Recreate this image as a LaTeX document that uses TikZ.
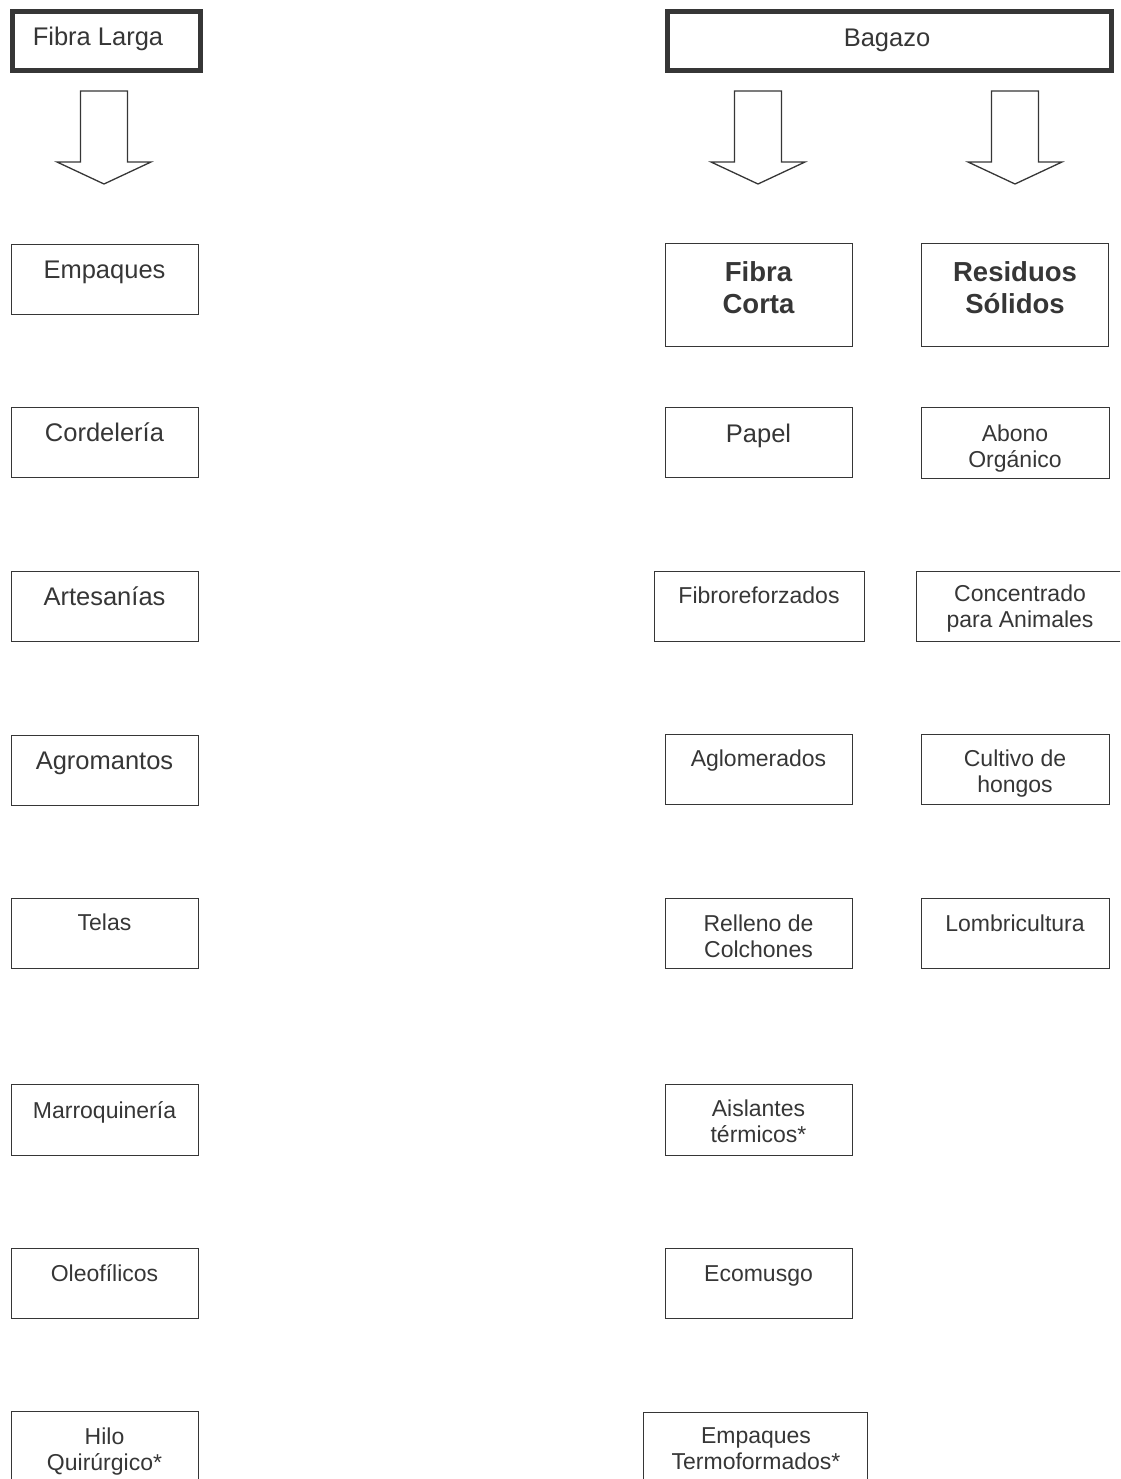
\documentclass[tikz,border=0pt]{standalone}
\usepackage{fontspec}
\setmainfont{Liberation Sans}
\usepackage{tikz}
\definecolor{grisoscuro}{HTML}{363636}
\tikzstyle{caja}=[rectangle, draw=grisoscuro, line width=1.3pt, anchor=north west, inner sep=0pt]
\tikzstyle{cajagruesa}=[caja, line width=4.6pt]
\tikzstyle{texto}=[text=grisoscuro, anchor=base, align=center, inner sep=0pt, font=\fontsize{23}{25.5}\selectfont]
\tikzstyle{textogrande}=[texto, font=\fontsize{25.5}{30}\selectfont]
\tikzstyle{textonegrita}=[texto, font=\fontsize{27.5}{32}\selectfont\bfseries]
\tikzset{flecha/.pic={
  \draw[grisoscuro, line width=1.3pt, line join=miter] (-23.5,0) -- (23.5,0) -- (23.5,71) -- (47,71) -- (0,93) -- (-47,71) -- (-23.5,71) -- cycle;
}}

\begin{document}
\begin{tikzpicture}[x=1pt, y=-1pt]
            \path[use as bounding box] (0,0) rectangle (1120,1479);
            \clip (0,0) rectangle (1120,1479);
            % Cajas de arriba
            \node[cajagruesa, minimum width=188pt, minimum height=58.5pt] (fibralarga) at (10,9.5) {};
            \node[cajagruesa, minimum width=444pt, minimum height=58.5pt] (bagazo) at (665,9.5) {};
            \node[textogrande] (tfibralarga) at (98,46) {Fibra Larga};
            \node[textogrande] (tbagazo) at (887,47) {Bagazo};
            % Flechas
            \pic (flechalarga) at (104,91) {flecha};
            \pic (flechacorta) at (758,91) {flecha};
            \pic (flecharesiduos) at (1015,91) {flecha};
            % Columna de fibra larga
            \node[caja, minimum width=187pt, minimum height=70pt] (empaques) at (11,244) {};
            \node[caja, minimum width=187pt, minimum height=70pt] (cordeleria) at (11,407) {};
            \node[caja, minimum width=187pt, minimum height=70pt] (artesanias) at (11,571) {};
            \node[caja, minimum width=187pt, minimum height=70pt] (agromantos) at (11,735) {};
            \node[caja, minimum width=187pt, minimum height=70pt] (telas) at (11,898) {};
            \node[caja, minimum width=187pt, minimum height=71pt] (marroquineria) at (11,1084) {};
            \node[caja, minimum width=187pt, minimum height=70pt] (oleofilicos) at (11,1248) {};
            \node[caja, minimum width=187pt, minimum height=75pt] (hilo) at (11,1411) {};
            \node[textogrande] (tempaques) at (104.5,278) {Empaques};
            \node[textogrande] (tcordeleria) at (104.5,441) {Cordelería};
            \node[textogrande] (tartesanias) at (104.5,605) {Artesanías};
            \node[textogrande] (tagromantos) at (104.5,769) {Agromantos};
            \node[texto] (ttelas) at (104.5,930) {Telas};
            \node[texto] (tmarroquineria) at (104.5,1118) {Marroquinería};
            \node[texto] (toleofilicos) at (104.5,1281) {Oleofílicos};
            \node[texto] (thilo) at (104.5,1470) {Hilo\\Quirúrgico*};
            % Columna de fibra corta
            \node[caja, minimum width=187pt, minimum height=103pt] (fibracorta) at (665,243) {};
            \node[caja, minimum width=187pt, minimum height=70pt] (papel) at (665,407) {};
            \node[caja, minimum width=210pt, minimum height=70pt] (fibroreforzados) at (654,571) {};
            \node[caja, minimum width=187pt, minimum height=70pt] (aglomerados) at (665,734) {};
            \node[caja, minimum width=187pt, minimum height=70pt] (relleno) at (665,898) {};
            \node[caja, minimum width=187pt, minimum height=71pt] (aislantes) at (665,1084) {};
            \node[caja, minimum width=187pt, minimum height=70pt] (ecomusgo) at (665,1248) {};
            \node[caja, minimum width=224pt, minimum height=75pt] (termoformados) at (643,1412) {};
            \node[textonegrita] (tfibracorta) at (758.5,313) {Fibra\\Corta};
            \node[textogrande] (tpapel) at (758.5,442) {Papel};
            \node[texto] (tfibroreforzados) at (759,603) {Fibroreforzados};
            \node[texto] (taglomerados) at (758.5,766) {Aglomerados};
            \node[texto] (trelleno) at (758.5,957) {Relleno de\\Colchones};
            \node[texto] (taislantes) at (758.5,1142) {Aislantes\\térmicos*};
            \node[texto] (tecomusgo) at (758.5,1281) {Ecomusgo};
            \node[texto] (ttermoformados) at (756,1469) {Empaques\\Termoformados*};
            % Columna de residuos
            \node[caja, minimum width=187pt, minimum height=103pt] (residuos) at (921,243) {};
            \node[caja, minimum width=188pt, minimum height=71pt] (abono) at (921,407) {};
            \node[caja, minimum width=210pt, minimum height=70pt] (concentrado) at (916,571) {};
            \node[caja, minimum width=188pt, minimum height=70pt] (cultivo) at (921,734) {};
            \node[caja, minimum width=188pt, minimum height=70pt] (lombricultura) at (921,898) {};
            \node[textonegrita] (tresiduos) at (1015,313) {Residuos\\Sólidos};
            \node[texto] (tabono) at (1015,467) {Abono\\Orgánico};
            \node[texto] (tconcentrado) at (1020,627) {Concentrado\\para Animales};
            \node[texto] (tcultivo) at (1015,792) {Cultivo de\\hongos};
            \node[texto] (tlombricultura) at (1015,931) {Lombricultura};
\end{tikzpicture}
\end{document}
